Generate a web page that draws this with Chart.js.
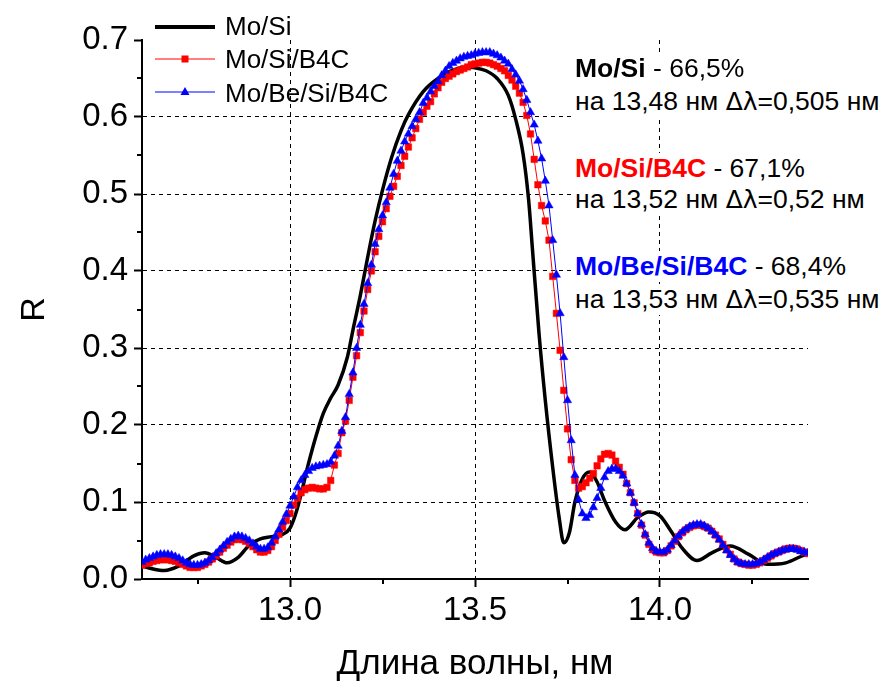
<!DOCTYPE html>
<html><head><meta charset="utf-8">
<script src="https://cdn.jsdelivr.net/npm/chart.js@4/dist/chart.umd.min.js"></script>
<style>
html,body{margin:0;padding:0;background:#fff;}
#wrap{position:relative;width:885px;height:682px;font-family:"Liberation Sans",Arial,sans-serif;overflow:hidden;}
#c{position:absolute;left:0;top:0;}
.ln{position:absolute;font-size:26.5px;line-height:normal;white-space:nowrap;color:#000;}
.ln span{display:inline-block;background:#fff;}
.ln i{font-style:normal;font-family:"DejaVu Sans",sans-serif;font-size:25px;}
.lg{position:absolute;font-size:26px;line-height:normal;white-space:nowrap;color:#000;}
svg.ls{position:absolute;}
</style>
</head><body>
<div id="wrap">
<canvas id="c" width="885" height="682"></canvas>
</div>
<script>
// ---------- data ----------
const seriesNames = ['Mo/Si', 'Mo/Si/B4C', 'Mo/Be/Si/B4C'];
const seriesColors = ['#000000', '#ff0000', '#0000ff'];

// Mo/Si (solid black line)
const moSiWavelength = [12.60,12.63,12.66,12.70,12.74,12.77,12.80,12.83,12.86,12.89,12.92,12.95,12.98,13.00,13.02,13.05,13.07,13.09,13.11,13.13,13.155,13.17,13.19,13.21,13.23,13.25,13.275,13.30,13.32,13.36,13.40,13.44,13.48,13.50,13.53,13.56,13.59,13.61,13.63,13.645,13.655,13.673,13.69,13.71,13.727,13.74,13.755,13.77,13.79,13.81,13.83,13.85,13.88,13.905,13.94,13.97,14.00,14.03,14.06,14.10,14.14,14.19,14.24,14.29,14.34,14.39,14.40];
const moSiR = [0.017,0.013,0.011,0.017,0.030,0.034,0.028,0.021,0.028,0.044,0.052,0.055,0.058,0.066,0.092,0.150,0.185,0.215,0.235,0.252,0.288,0.323,0.368,0.418,0.465,0.505,0.548,0.582,0.603,0.633,0.650,0.661,0.665,0.664,0.660,0.650,0.628,0.597,0.552,0.492,0.430,0.319,0.232,0.145,0.081,0.047,0.060,0.100,0.130,0.139,0.126,0.102,0.074,0.064,0.080,0.087,0.082,0.062,0.040,0.024,0.034,0.043,0.032,0.019,0.021,0.031,0.032];

// sampled wavelengths for the two marker series
const sampledWavelength = [
12.60,12.61,12.62,12.63,12.64,12.65,12.66,12.67,12.68,12.69,
12.70,12.71,12.72,12.73,12.74,12.75,12.76,12.77,12.78,12.79,
12.80,12.81,12.82,12.83,12.84,12.85,12.86,12.87,12.88,12.89,
12.90,12.91,12.92,12.93,12.94,12.95,12.96,12.97,12.98,12.99,
13.00,13.01,13.02,13.03,13.04,13.05,13.06,13.07,13.08,13.09,
13.10,13.11,13.12,13.13,13.14,13.15,13.16,13.17,13.18,13.19,
13.20,13.21,13.22,13.23,13.24,13.25,13.26,13.27,13.28,13.29,
13.30,13.31,13.32,13.33,13.34,13.35,13.36,13.37,13.38,13.39,
13.40,13.41,13.42,13.43,13.44,13.45,13.46,13.47,13.48,13.49,
13.50,13.51,13.52,13.53,13.54,13.55,13.56,13.57,13.58,13.59,
13.60,13.61,13.62,13.63,13.64,13.65,13.66,13.67,13.68,13.69,
13.70,13.71,13.72,13.73,13.74,13.75,13.76,13.77,13.78,13.79,
13.80,13.81,13.82,13.83,13.84,13.85,13.86,13.87,13.88,13.89,
13.90,13.91,13.92,13.93,13.94,13.95,13.96,13.97,13.98,13.99,
14.00,14.01,14.02,14.03,14.04,14.05,14.06,14.07,14.08,14.09,
14.10,14.11,14.12,14.13,14.14,14.15,14.16,14.17,14.18,14.19,
14.20,14.21,14.22,14.23,14.24,14.25,14.26,14.27,14.28,14.29,
14.30,14.31,14.32,14.33,14.34,14.35,14.36,14.37,14.38,14.39,
14.40];

// Mo/Si/B4C (red squares)
const moSiB4CR = [
0.018,0.020,0.021,0.023,0.024,0.025,0.025,0.025,0.024,0.023,
0.021,0.019,0.017,0.015,0.015,0.015,0.017,0.019,0.022,0.026,
0.030,0.035,0.040,0.044,0.048,0.051,0.052,0.051,0.049,0.046,
0.042,0.038,0.035,0.035,0.037,0.042,0.050,0.058,0.067,0.076,
0.085,0.096,0.105,0.112,0.116,0.118,0.119,0.118,0.117,0.117,
0.119,0.128,0.148,0.163,0.190,0.205,0.232,0.262,0.290,0.320,
0.348,0.376,0.400,0.425,0.445,0.464,0.481,0.497,0.510,0.523,
0.537,0.549,0.561,0.573,0.585,0.597,0.606,0.614,0.620,0.630,
0.638,0.645,0.650,0.653,0.656,0.659,0.661,0.663,0.665,0.668,
0.669,0.670,0.671,0.671,0.670,0.668,0.666,0.663,0.660,0.654,
0.648,0.640,0.631,0.619,0.602,0.578,0.545,0.512,0.485,0.465,
0.440,0.393,0.345,0.297,0.245,0.195,0.155,0.128,0.118,0.120,
0.125,0.131,0.137,0.147,0.156,0.162,0.163,0.161,0.153,0.145,
0.136,0.124,0.112,0.099,0.085,0.070,0.057,0.045,0.038,0.035,
0.034,0.034,0.037,0.043,0.049,0.055,0.060,0.064,0.067,0.069,
0.070,0.070,0.068,0.066,0.062,0.057,0.052,0.045,0.038,0.032,
0.026,0.022,0.020,0.019,0.018,0.018,0.019,0.021,0.024,0.027,
0.030,0.033,0.035,0.037,0.039,0.040,0.040,0.039,0.037,0.035,
0.033];

// Mo/Be/Si/B4C (blue triangles)
const moBeSiB4CR = [
0.022,0.025,0.027,0.029,0.031,0.032,0.032,0.032,0.031,0.029,
0.027,0.024,0.021,0.019,0.018,0.018,0.019,0.021,0.024,0.028,
0.033,0.038,0.043,0.048,0.052,0.055,0.056,0.055,0.053,0.050,
0.046,0.042,0.039,0.039,0.041,0.047,0.055,0.064,0.074,0.084,
0.095,0.107,0.119,0.128,0.135,0.140,0.144,0.146,0.147,0.148,
0.149,0.152,0.160,0.173,0.192,0.210,0.240,0.268,0.300,0.330,
0.357,0.384,0.408,0.435,0.454,0.472,0.489,0.508,0.526,0.543,
0.556,0.568,0.578,0.588,0.597,0.606,0.618,0.625,0.633,0.640,
0.646,0.654,0.660,0.666,0.670,0.673,0.676,0.678,0.679,0.680,
0.682,0.683,0.684,0.684,0.684,0.682,0.680,0.677,0.673,0.669,
0.662,0.655,0.647,0.636,0.622,0.606,0.590,0.569,0.546,0.517,
0.485,0.440,0.395,0.345,0.288,0.232,0.180,0.135,0.103,0.085,
0.079,0.083,0.093,0.105,0.118,0.132,0.140,0.143,0.143,0.140,
0.134,0.124,0.112,0.099,0.085,0.071,0.058,0.047,0.040,0.036,
0.035,0.035,0.038,0.044,0.050,0.056,0.061,0.065,0.068,0.070,
0.071,0.071,0.069,0.066,0.062,0.057,0.051,0.044,0.037,0.031,
0.026,0.022,0.020,0.019,0.019,0.019,0.020,0.022,0.025,0.028,
0.031,0.033,0.035,0.037,0.038,0.039,0.039,0.038,0.036,0.035,
0.034];

const xTickValues = [13.0, 13.5, 14.0];
const xMinorTickValues = [12.75, 13.25, 13.75, 14.25];
const yTickValues = [0.0, 0.1, 0.2, 0.3, 0.4, 0.5, 0.6, 0.7];
const yMinorTickValues = [0.05, 0.15, 0.25, 0.35, 0.45, 0.55, 0.65];
const xAxisTitle = 'Длина волны, нм';
const yAxisTitle = 'R';

const annotationLines = [
  {name: 'Mo/Si', value: ' - 66,5%', pre: 'на 13,48 нм ', sym: 'Δλ', post: '=0,505 нм'},
  {name: 'Mo/Si/B4C', value: ' - 67,1%', pre: 'на 13,52 нм ', sym: 'Δλ', post: '=0,52 нм'},
  {name: 'Mo/Be/Si/B4C', value: ' - 68,4%', pre: 'на 13,53 нм ', sym: 'Δλ', post: '=0,535 нм'}
];

// ---------- build ----------
const FONT = '"Liberation Sans", Arial, sans-serif';
const zip = (xs, ys) => xs.map((x, i) => ({x: x, y: ys[i]}));

const minorTicks = {
  id: 'minorTicks',
  afterDraw(chart) {
    const {ctx} = chart;
    const x = chart.scales.x, y = chart.scales.y;
    ctx.save();
    ctx.strokeStyle = '#000';
    ctx.lineWidth = 2;
    xMinorTickValues.forEach(v => {
      const px = Math.round(x.getPixelForValue(v));
      ctx.beginPath(); ctx.moveTo(px, y.bottom); ctx.lineTo(px, y.bottom + 5); ctx.stroke();
    });
    yMinorTickValues.forEach(v => {
      const py = Math.round(y.getPixelForValue(v));
      ctx.beginPath(); ctx.moveTo(x.left, py); ctx.lineTo(x.left - 5, py); ctx.stroke();
    });
    ctx.restore();
  }
};

new Chart(document.getElementById('c'), {
  type: 'line',
  data: {
    datasets: [
      {
        label: seriesNames[0], data: zip(moSiWavelength, moSiR),
        borderColor: seriesColors[0], borderWidth: 3.5, pointRadius: 0,
        cubicInterpolationMode: 'monotone', order: 3, fill: false
      },
      {
        label: seriesNames[1], data: zip(sampledWavelength, moSiB4CR),
        borderColor: seriesColors[1], borderWidth: 1, tension: 0,
        pointStyle: 'rect', pointRadius: 4.6, pointBackgroundColor: seriesColors[1],
        pointBorderColor: seriesColors[1], pointBorderWidth: 0.5, order: 2, fill: false
      },
      {
        label: seriesNames[2], data: zip(sampledWavelength, moBeSiB4CR),
        borderColor: seriesColors[2], borderWidth: 1, tension: 0,
        pointStyle: 'triangle', pointRadius: 4.8, pointBackgroundColor: seriesColors[2],
        pointBorderColor: seriesColors[2], pointBorderWidth: 0.5, order: 1, fill: false
      }
    ]
  },
  options: {
    responsive: false,
    animation: false,
    devicePixelRatio: 1,
    layout: {padding: {top: 40, right: 77, left: 0, bottom: 0}},
    plugins: {legend: {display: false}, tooltip: {enabled: false}},
    scales: {
      x: {
        type: 'linear', min: 12.6, max: 14.4,
        afterBuildTicks: s => { s.ticks = xTickValues.map(v => ({value: v})); },
        afterFit: s => { s.height = 103; },
        ticks: {
          callback: v => v.toFixed(1), color: '#000', padding: 4,
          font: {family: FONT, size: 33}, maxRotation: 0, autoSkip: false
        },
        grid: {color: '#000', lineWidth: 1, tickLength: 8, tickColor: '#000', tickWidth: 2},
        border: {display: true, color: '#000', width: 2, dash: [4, 4]},
        title: {display: true, text: xAxisTitle, color: '#000', font: {family: FONT, size: 35}, padding: {top: 0, bottom: -3}}
      },
      y: {
        type: 'linear', min: 0, max: 0.7,
        afterBuildTicks: s => { s.ticks = yTickValues.map(v => ({value: v})); },
        afterFit: s => { s.width = 142; },
        ticks: {
          callback: v => v.toFixed(1), color: '#000', padding: 6,
          font: {family: FONT, size: 33}, autoSkip: false
        },
        grid: {
          color: c => (c.tick && (c.tick.value <= 0.0001 || c.tick.value >= 0.6999)) ? 'rgba(0,0,0,0)' : '#000',
          lineWidth: 1, tickLength: 8, tickColor: '#000', tickWidth: 2
        },
        border: {display: true, color: '#000', width: 2, dash: [4, 4]},
        title: {display: true, text: yAxisTitle, color: '#000', font: {family: FONT, size: 34}, padding: {top: 14, bottom: 0}}
      }
    }
  },
  plugins: [minorTicks]
});

// ---------- legend (HTML) ----------
const wrap = document.getElementById('wrap');
const legendRows = [{line: 27, base: 35}, {line: 59, base: 68}, {line: 92, base: 102}];
seriesNames.forEach((name, i) => {
  const r = legendRows[i];
  const svgNS = 'http://www.w3.org/2000/svg';
  const svg = document.createElementNS(svgNS, 'svg');
  svg.setAttribute('class', 'ls');
  svg.setAttribute('width', '64'); svg.setAttribute('height', '16');
  svg.style.left = '153px'; svg.style.top = (r.line - 8) + 'px';
  const ln = document.createElementNS(svgNS, 'line');
  ln.setAttribute('x1', '2'); ln.setAttribute('x2', '62'); ln.setAttribute('y1', '8'); ln.setAttribute('y2', '8');
  ln.setAttribute('stroke', seriesColors[i]); ln.setAttribute('stroke-width', i === 0 ? '4' : '1');
  svg.appendChild(ln);
  if (i === 1) {
    const m = document.createElementNS(svgNS, 'rect');
    m.setAttribute('x', '28.5'); m.setAttribute('y', '4.5'); m.setAttribute('width', '7'); m.setAttribute('height', '7');
    m.setAttribute('fill', seriesColors[i]); svg.appendChild(m);
  } else if (i === 2) {
    const m = document.createElementNS(svgNS, 'polygon');
    m.setAttribute('points', '32,3 36.5,11 27.5,11');
    m.setAttribute('fill', seriesColors[i]); svg.appendChild(m);
  }
  wrap.appendChild(svg);
  const t = document.createElement('div');
  t.className = 'lg';
  t.textContent = name;
  t.style.left = '225px';
  t.style.top = (r.base - 24) + 'px';
  wrap.appendChild(t);
});

// ---------- annotations (HTML) ----------
const annoBaselines = [[77, 110], [177, 208], [275, 308]];
annotationLines.forEach((a, i) => {
  const l1 = document.createElement('div');
  l1.className = 'ln';
  l1.style.left = '575px';
  l1.style.top = (annoBaselines[i][0] - 24) + 'px';
  const s1 = document.createElement('span');
  const b = document.createElement('b');
  b.textContent = a.name;
  b.style.color = seriesColors[i];
  s1.appendChild(b);
  s1.appendChild(document.createTextNode(a.value));
  l1.appendChild(s1);
  wrap.appendChild(l1);
  const l2 = document.createElement('div');
  l2.className = 'ln';
  l2.style.left = '575px';
  l2.style.top = (annoBaselines[i][1] - 24) + 'px';
  const s2 = document.createElement('span');
  s2.appendChild(document.createTextNode(a.pre));
  const sym = document.createElement('i');
  sym.textContent = a.sym;
  s2.appendChild(sym);
  s2.appendChild(document.createTextNode(a.post));
  l2.appendChild(s2);
  wrap.appendChild(l2);
});
</script>
</body></html>
